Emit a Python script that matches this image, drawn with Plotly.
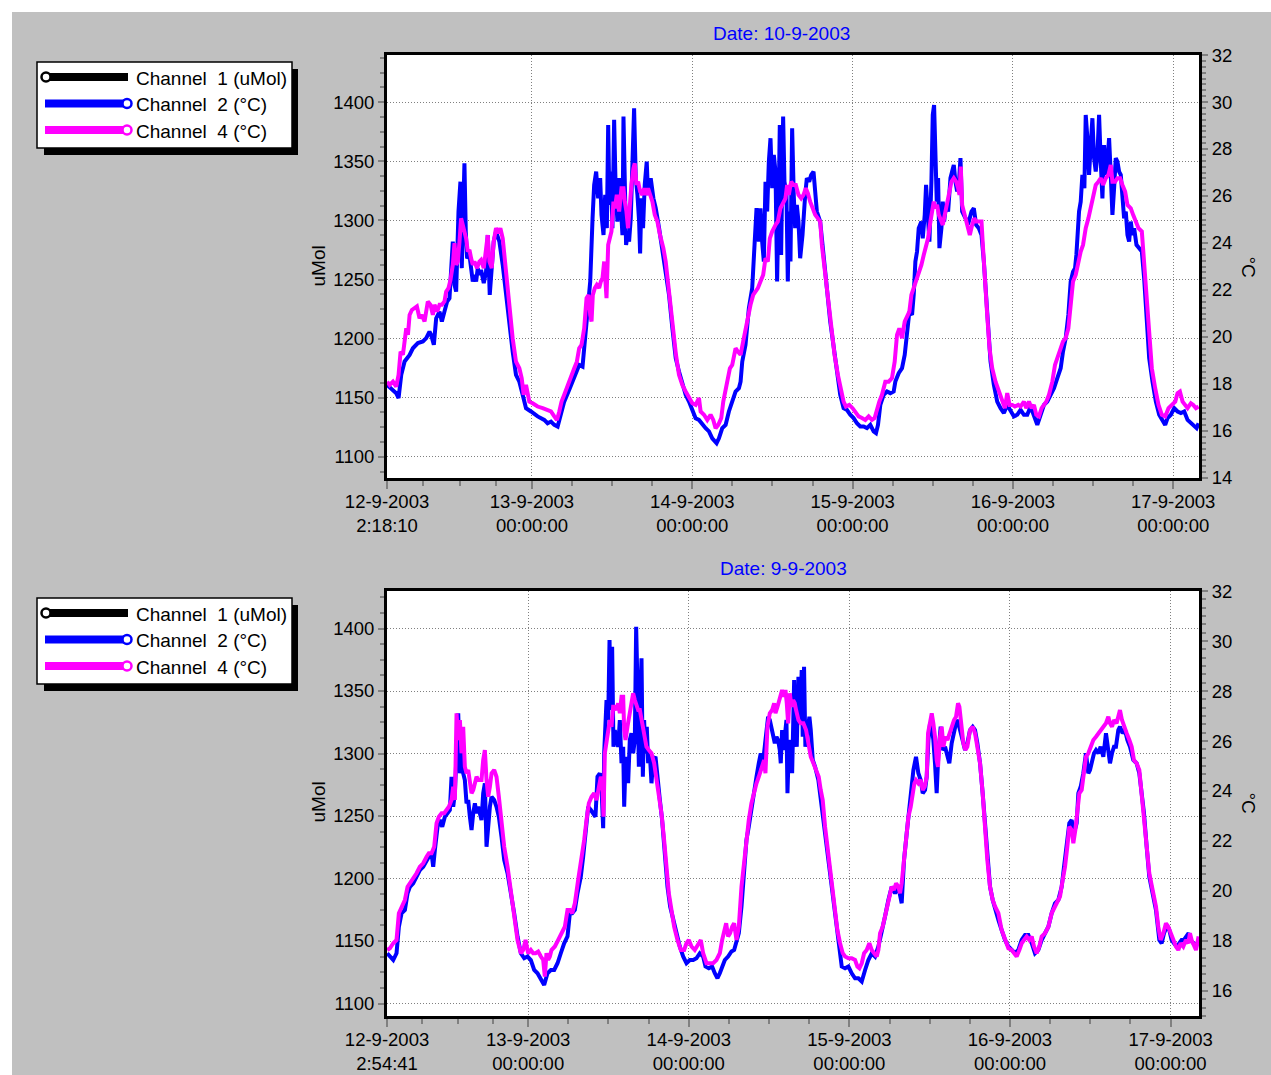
import pandas as pd
import plotly.graph_objects as go

# ---------------- data (hours after 12-9-2003 00:00, values in deg C) ----------------
DAY0 = pd.Timestamp("2003-09-12 00:00:00")
TOP_TITLE = "Date: 10-9-2003"
BOT_TITLE = "Date: 9-9-2003"
TOP_START = pd.Timestamp("2003-09-12 02:18:10")
BOT_START = pd.Timestamp("2003-09-12 02:54:41")
DAY_TICKS = ["2003-09-13", "2003-09-14", "2003-09-15", "2003-09-16", "2003-09-17"]
DAY_LABELS = ["13-9-2003<br>00:00:00", "14-9-2003<br>00:00:00", "15-9-2003<br>00:00:00",
              "16-9-2003<br>00:00:00", "17-9-2003<br>00:00:00"]
TOP_FIRST_LABEL = "12-9-2003<br>2:18:10"
BOT_FIRST_LABEL = "12-9-2003<br>2:54:41"
LEGEND_NAMES = ["Channel\u00a0\u00a01 (uMol)", "Channel\u00a0\u00a02 (°C)", "Channel\u00a0\u00a04 (°C)"]
UMOL_TICKS = [1100, 1150, 1200, 1250, 1300, 1350, 1400]
TOP_C_TICKS = [14, 16, 18, 20, 22, 24, 26, 28, 30, 32]
BOT_C_TICKS = [16, 18, 20, 22, 24, 26, 28, 30, 32]
CH1_H = []   # channel 1 (uMol) shows no visible samples in the picture
CH1 = []

TOP_CH2_H = [
    2.31, 2.94, 3.68, 4.03, 4.43, 4.93, 5.68, 6.17, 6.92, 7.67,
    8.17, 8.66, 8.91, 9.31, 9.66, 10.16, 10.51, 10.90, 11.30, 11.65,
    12.15, 12.40, 12.65, 13.00, 13.29, 13.49, 13.74, 13.89, 14.09, 14.29,
    14.64, 14.89, 15.14, 15.39, 15.64, 15.88, 16.13, 16.38, 16.78, 17.13,
    17.38, 17.68, 17.98, 18.27, 18.62, 19.12, 19.62, 20.12, 20.62, 21.11,
    21.61, 22.11, 22.61, 23.11, 23.85, 24.85, 25.84, 26.34, 26.84, 27.34,
    27.84, 28.33, 28.83, 29.58, 30.08, 30.58, 31.07, 31.57, 31.82, 32.32,
    32.72, 33.07, 33.31, 33.61, 33.91, 34.21, 34.41, 34.71, 34.96, 35.21,
    35.41, 35.60, 35.80, 36.05, 36.30, 36.55, 36.80, 37.05, 37.30, 37.55,
    37.70, 37.90, 38.09, 38.29, 38.54, 38.79, 39.04, 39.29, 39.54, 39.79,
    40.04, 40.19, 40.39, 40.63, 40.88, 41.18, 41.38, 41.78, 42.18, 42.53,
    43.03, 43.52, 44.02, 44.52, 45.02, 45.52, 46.01, 46.51, 47.01, 47.51,
    48.01, 48.50, 49.00, 49.50, 50.00, 50.50, 50.99, 51.64, 51.99, 52.49,
    52.99, 53.48, 53.98, 54.48, 54.98, 55.23, 55.48, 55.97, 56.47, 56.97,
    57.32, 57.62, 57.97, 58.21, 58.46, 58.71, 58.96, 59.21, 59.46, 59.71,
    59.96, 60.21, 60.46, 60.70, 60.95, 61.10, 61.30, 61.60, 61.80, 62.10,
    62.30, 62.50, 62.70, 62.95, 63.19, 63.40, 63.65, 63.90, 64.15, 64.50,
    64.90, 65.15, 65.50, 65.80, 66.15, 66.40, 66.65, 67.15, 67.65, 68.15,
    68.65, 69.15, 69.65, 70.15, 70.65, 71.15, 71.65, 72.15, 72.65, 73.15,
    73.65, 74.15, 74.65, 75.15, 75.50, 75.80, 76.15, 76.65, 77.15, 77.65,
    78.15, 78.40, 78.90, 79.40, 79.80, 80.15, 80.50, 80.90, 81.15, 81.40,
    81.65, 81.90, 82.30, 82.50, 82.80, 83.00, 83.30, 83.50, 83.80, 84.00,
    84.20, 84.40, 84.60, 84.80, 85.00, 85.30, 85.50, 85.70, 86.00, 86.30,
    86.65, 86.90, 87.15, 87.40, 87.65, 87.90, 88.15, 88.40, 88.65, 88.90,
    89.40, 89.80, 90.15, 90.50, 90.90, 91.30, 91.65, 92.00, 92.30, 92.65,
    93.15, 93.65, 94.15, 94.65, 95.15, 95.65, 96.15, 96.65, 97.15, 97.65,
    98.15, 98.65, 99.15, 99.65, 100.15, 100.65, 101.15, 101.65, 102.15, 102.65,
    103.15, 103.50, 103.90, 104.30, 104.65, 105.00, 105.30, 105.50, 105.70, 105.90,
    106.15, 106.40, 106.70, 106.90, 107.15, 107.40, 107.65, 107.90, 108.15, 108.40,
    108.65, 108.90, 109.15, 109.40, 109.65, 109.90, 110.15, 110.40, 110.65, 110.90,
    111.15, 111.40, 111.65, 111.90, 112.15, 112.40, 112.65, 112.90, 113.15, 113.40,
    113.65, 113.90, 114.15, 114.50, 114.90, 115.30, 115.65, 116.00, 116.40, 116.90,
    117.40, 117.90, 118.40, 118.80, 119.15, 119.65, 120.15, 120.65, 121.15, 121.65,
    122.15, 122.65, 123.15, 123.50, 123.80,
]
TOP_CH2 = [
    17.96, 17.82, 17.61, 17.40, 18.39, 18.96, 19.24, 19.52, 19.74, 19.81,
    19.95, 20.23, 20.09, 19.67, 20.80, 21.08, 20.66, 21.08, 21.51, 21.65,
    24.06, 22.22, 21.93, 25.34, 26.61, 22.93, 26.76, 27.39, 24.49, 23.35,
    23.49, 22.78, 22.36, 22.64, 22.36, 22.93, 22.64, 22.86, 22.29, 22.78,
    24.34, 21.79, 22.93, 24.06, 24.49, 24.06, 23.07, 21.79, 20.66, 19.38,
    18.39, 18.10, 17.54, 16.97, 16.83, 16.62, 16.47, 16.33, 16.40, 16.26,
    16.19, 16.69, 17.25, 17.75, 18.10, 18.39, 18.81, 18.74, 19.52, 21.22,
    22.36, 25.05, 26.47, 27.04, 25.90, 26.76, 25.20, 24.34, 26.05, 24.63,
    29.02, 25.62, 27.04, 24.63, 29.24, 26.05, 24.91, 26.76, 25.48, 24.34,
    29.38, 26.05, 23.92, 24.34, 24.06, 25.05, 28.17, 29.73, 26.76, 26.05,
    24.91, 23.56, 25.90, 24.63, 26.47, 27.46, 26.05, 26.76, 25.90, 25.48,
    24.63, 23.64, 22.93, 21.79, 20.37, 19.10, 18.53, 17.96, 17.54, 17.25,
    16.83, 16.54, 16.47, 16.26, 16.12, 15.98, 15.69, 15.48, 15.69, 16.12,
    16.26, 16.83, 17.25, 17.68, 17.82, 18.10, 18.95, 19.67, 21.22, 22.08,
    23.92, 25.48, 24.06, 25.48, 24.06, 23.21, 26.61, 25.34, 27.46, 28.46,
    26.33, 27.75, 27.04, 22.36, 26.05, 29.02, 23.49, 29.38, 26.61, 26.05,
    22.36, 25.34, 23.21, 28.88, 26.05, 24.63, 25.62, 24.91, 23.35, 24.34,
    26.05, 26.76, 26.61, 26.90, 27.04, 25.90, 25.34, 24.91, 23.64, 22.08,
    20.66, 19.52, 18.53, 17.54, 16.97, 16.90, 16.69, 16.55, 16.33, 16.19,
    16.19, 16.12, 16.26, 15.98, 15.91, 16.26, 17.11, 17.54, 17.68, 17.61,
    17.68, 18.10, 18.46, 18.67, 19.24, 20.37, 21.08, 20.94, 21.79, 23.21,
    23.64, 24.63, 24.91, 24.20, 25.20, 26.47, 25.34, 24.06, 26.61, 29.45,
    29.87, 27.46, 25.76, 26.76, 23.78, 24.63, 25.76, 24.91, 25.62, 25.34,
    26.76, 27.04, 27.32, 26.61, 26.19, 26.47, 27.61, 25.34, 25.20, 25.05,
    24.91, 25.34, 25.48, 24.77, 24.63, 24.34, 23.21, 21.79, 20.37, 18.95,
    17.96, 17.25, 16.97, 16.76, 17.11, 16.90, 16.62, 16.69, 16.90, 16.69,
    16.69, 17.04, 16.69, 16.26, 16.69, 17.11, 17.25, 17.54, 17.82, 18.25,
    18.67, 19.38, 19.95, 20.94, 22.36, 22.78, 22.93, 23.49, 24.34, 25.34,
    25.76, 26.90, 26.33, 29.45, 28.46, 26.90, 28.17, 29.31, 27.61, 27.04,
    27.75, 29.45, 27.46, 25.90, 28.17, 26.90, 27.46, 28.46, 26.90, 25.20,
    26.33, 27.61, 27.46, 27.04, 26.90, 25.76, 25.05, 25.34, 24.34, 24.06,
    24.91, 24.34, 24.63, 23.92, 23.78, 23.64, 22.50, 20.66, 19.10, 18.10,
    17.25, 16.69, 16.40, 16.26, 16.55, 16.69, 16.97, 16.83, 16.76, 16.83,
    16.47, 16.33, 16.19, 16.12, 16.33,
]

TOP_CH4_H = [
    2.31, 2.69, 3.19, 3.68, 4.03, 4.33, 4.68, 4.93, 5.18, 5.43,
    5.68, 6.02, 6.42, 6.77, 7.17, 7.52, 7.92, 8.17, 8.41, 8.81,
    9.16, 9.41, 9.81, 10.16, 10.51, 10.90, 11.15, 11.50, 11.80, 12.15,
    12.40, 12.65, 12.90, 13.15, 13.39, 13.64, 13.89, 14.14, 14.39, 14.64,
    14.89, 15.14, 15.39, 15.78, 16.13, 16.38, 16.78, 17.13, 17.38, 17.63,
    17.98, 18.27, 18.62, 18.97, 19.27, 19.62, 19.87, 20.27, 20.62, 21.11,
    21.61, 22.11, 22.46, 22.76, 23.11, 23.35, 23.60, 24.10, 24.85, 25.60,
    26.34, 26.84, 27.34, 27.74, 28.09, 28.43, 28.83, 29.33, 29.83, 30.33,
    30.72, 31.07, 31.42, 31.82, 32.17, 32.47, 32.72, 32.92, 33.11, 33.41,
    33.71, 34.06, 34.31, 34.56, 34.81, 34.96, 35.16, 35.41, 35.70, 35.90,
    36.20, 36.40, 36.70, 37.05, 37.40, 37.70, 37.90, 38.14, 38.39, 38.69,
    38.89, 39.19, 39.39, 39.64, 39.89, 40.19, 40.53, 40.78, 41.08, 41.38,
    41.68, 42.03, 42.38, 42.78, 43.17, 43.67, 44.02, 44.37, 44.77, 45.17,
    45.56, 46.01, 46.51, 47.01, 47.51, 48.01, 48.50, 49.00, 49.25, 49.75,
    50.25, 50.74, 51.14, 51.49, 51.89, 52.34, 52.64, 52.99, 53.33, 53.63,
    53.98, 54.48, 54.83, 55.23, 55.62, 55.97, 56.32, 56.72, 57.12, 57.47,
    57.82, 58.21, 58.61, 58.96, 59.31, 59.61, 59.96, 60.46, 60.80, 61.20,
    61.60, 61.95, 62.20, 62.45, 62.80, 63.19, 63.50, 63.90, 64.30, 64.65,
    65.00, 65.30, 65.65, 66.00, 66.40, 66.80, 67.15, 67.40, 67.80, 68.30,
    68.80, 69.30, 69.80, 70.30, 70.65, 71.00, 71.50, 72.00, 72.40, 72.90,
    73.40, 73.90, 74.40, 74.90, 75.30, 75.65, 76.00, 76.40, 76.90, 77.40,
    77.90, 78.30, 78.65, 79.00, 79.40, 79.80, 80.15, 80.50, 80.80, 81.15,
    81.50, 81.90, 82.30, 82.65, 82.90, 83.30, 83.65, 83.90, 84.15, 84.40,
    84.65, 84.90, 85.20, 85.50, 85.80, 86.15, 86.50, 86.80, 87.15, 87.50,
    87.80, 88.00, 88.20, 88.40, 88.65, 88.90, 89.25, 89.55, 89.90, 90.20,
    90.50, 90.90, 91.30, 91.50, 91.80, 92.15, 92.50, 92.90, 93.40, 93.90,
    94.40, 94.80, 95.15, 95.50, 95.90, 96.30, 96.80, 97.15, 97.65, 98.00,
    98.40, 98.80, 99.15, 99.50, 99.90, 100.30, 100.65, 101.00, 101.40, 101.90,
    102.30, 102.70, 103.15, 103.50, 103.90, 104.30, 104.65, 105.00, 105.40, 105.80,
    106.15, 106.50, 106.90, 107.30, 107.65, 108.00, 108.40, 108.80, 109.15, 109.50,
    109.90, 110.30, 110.65, 110.90, 111.30, 111.65, 112.05, 112.40, 112.80, 113.15,
    113.65, 114.00, 114.40, 114.80, 115.30, 115.65, 116.00, 116.40, 116.80, 117.30,
    117.80, 118.30, 118.80, 119.30, 119.80, 120.30, 120.65, 121.00, 121.40, 121.80,
    122.15, 122.65, 123.00, 123.40, 123.80,
]
TOP_CH4 = [
    18.10, 17.96, 18.10, 17.89, 18.39, 19.38, 19.24, 19.95, 20.37, 20.09,
    20.94, 21.15, 21.22, 21.30, 20.80, 20.94, 20.66, 21.22, 21.51, 21.37,
    20.94, 21.37, 21.08, 21.37, 21.37, 21.51, 21.93, 22.08, 22.43, 23.07,
    23.99, 23.07, 23.21, 24.06, 25.05, 24.77, 24.49, 24.20, 23.64, 23.71,
    23.35, 23.07, 23.21, 22.93, 23.21, 23.28, 22.93, 23.64, 24.34, 23.21,
    22.93, 24.06, 24.63, 24.42, 24.63, 24.20, 23.49, 22.36, 21.22, 19.95,
    18.95, 18.67, 18.25, 17.54, 17.96, 17.54, 17.25, 17.18, 17.04, 16.97,
    16.90, 16.83, 16.62, 16.47, 16.83, 17.25, 17.54, 17.96, 18.25, 18.67,
    18.95, 19.52, 19.67, 20.37, 21.65, 21.79, 20.94, 20.66, 21.79, 22.08,
    22.22, 22.08, 22.36, 22.50, 23.21, 22.36, 21.65, 23.92, 24.34, 24.49,
    25.76, 25.48, 26.05, 25.34, 26.33, 26.33, 25.76, 25.34, 24.63, 26.05,
    26.47, 27.18, 27.39, 26.47, 26.61, 26.19, 26.05, 26.33, 26.05, 26.33,
    26.05, 25.76, 25.20, 24.91, 24.34, 23.78, 23.21, 22.22, 21.08, 20.09,
    19.24, 18.39, 17.96, 17.68, 17.40, 17.18, 17.11, 17.40, 16.83, 16.69,
    16.47, 16.69, 16.47, 16.12, 16.26, 16.55, 17.25, 17.82, 18.39, 18.67,
    18.81, 19.52, 19.38, 19.24, 19.81, 20.37, 20.80, 21.37, 21.79, 21.93,
    22.08, 22.36, 22.64, 23.35, 23.21, 24.20, 24.49, 24.77, 24.91, 25.48,
    25.76, 25.90, 26.47, 26.05, 26.61, 26.47, 26.47, 26.05, 25.90, 26.05,
    26.33, 26.12, 25.76, 25.48, 25.20, 25.05, 24.91, 23.92, 22.93, 21.79,
    20.37, 19.24, 18.39, 17.82, 17.25, 17.04, 17.11, 16.97, 16.83, 16.62,
    16.55, 16.47, 16.62, 16.47, 16.55, 16.97, 17.25, 17.54, 18.10, 18.10,
    18.25, 18.95, 20.09, 20.37, 19.95, 20.66, 20.87, 21.08, 21.79, 22.08,
    22.36, 22.64, 23.07, 23.49, 23.78, 24.20, 24.91, 25.48, 25.76, 25.48,
    25.62, 25.20, 24.91, 24.77, 25.20, 25.76, 26.19, 26.61, 26.76, 26.61,
    26.33, 26.05, 27.25, 25.62, 25.34, 25.05, 24.63, 24.34, 24.77, 25.05,
    24.91, 24.91, 24.91, 23.92, 22.36, 20.94, 19.52, 18.67, 18.10, 17.68,
    17.25, 16.97, 17.61, 17.11, 17.11, 17.04, 17.11, 17.04, 17.25, 16.97,
    17.25, 16.97, 17.11, 16.69, 16.62, 16.97, 17.11, 17.25, 17.54, 18.10,
    18.81, 19.10, 19.52, 19.81, 19.95, 20.37, 21.51, 22.36, 22.64, 23.21,
    23.64, 23.92, 24.63, 25.05, 25.48, 25.90, 26.47, 26.61, 26.76, 26.47,
    26.76, 26.90, 27.32, 26.61, 26.61, 26.76, 26.76, 26.47, 26.19, 25.62,
    25.48, 25.20, 24.91, 24.63, 24.49, 23.21, 21.79, 20.09, 18.67, 17.82,
    17.11, 16.69, 16.62, 16.97, 17.11, 17.25, 17.61, 17.68, 17.25, 17.11,
    16.97, 17.18, 17.11, 16.97, 17.04,
]

BOT_CH2_H = [
    2.94, 3.34, 3.84, 4.33, 4.68, 5.08, 5.58, 5.98, 6.33, 6.82,
    7.32, 7.82, 8.32, 8.82, 9.16, 9.56, 9.81, 10.06, 10.46, 10.81,
    11.16, 11.55, 11.95, 12.30, 12.55, 12.80, 13.05, 13.30, 13.55, 13.80,
    14.04, 14.29, 14.54, 14.79, 15.04, 15.29, 15.54, 15.79, 16.04, 16.29,
    16.53, 16.78, 17.03, 17.28, 17.53, 17.78, 18.03, 18.28, 18.53, 18.92,
    19.27, 19.62, 20.02, 20.42, 20.92, 21.41, 21.91, 22.41, 22.91, 23.41,
    23.90, 24.40, 24.90, 25.40, 25.90, 26.39, 26.89, 27.39, 27.89, 28.39,
    28.88, 29.38, 29.88, 30.23, 30.58, 30.98, 31.37, 31.87, 32.22, 32.57,
    32.97, 33.37, 33.72, 34.06, 34.36, 34.71, 34.96, 35.21, 35.36, 35.56,
    35.71, 35.96, 36.16, 36.35, 36.55, 36.75, 36.95, 37.20, 37.45, 37.70,
    37.95, 38.20, 38.35, 38.55, 38.74, 38.94, 39.19, 39.44, 39.69, 39.94,
    40.14, 40.34, 40.54, 40.74, 40.94, 41.14, 41.33, 41.53, 41.73, 41.93,
    42.18, 42.43, 42.68, 43.03, 43.33, 43.68, 44.02, 44.42, 44.82, 45.22,
    45.67, 46.17, 46.66, 47.16, 47.66, 48.16, 48.66, 49.15, 49.65, 50.15,
    50.50, 51.00, 51.49, 51.89, 52.29, 52.64, 52.99, 53.39, 53.88, 54.38,
    54.78, 55.13, 55.48, 55.88, 56.27, 56.62, 56.97, 57.37, 57.77, 58.12,
    58.46, 58.76, 58.96, 59.26, 59.61, 59.86, 60.11, 60.36, 60.61, 60.86,
    61.11, 61.35, 61.60, 61.75, 61.95, 62.15, 62.35, 62.60, 62.75, 62.95,
    63.25, 63.45, 63.75, 63.84, 64.14, 64.39, 64.63, 64.88, 65.03, 65.23,
    65.43, 65.73, 66.03, 66.23, 66.53, 66.88, 67.37, 67.87, 68.37, 68.87,
    69.37, 69.86, 70.36, 70.86, 71.36, 71.86, 72.35, 72.85, 73.35, 73.85,
    74.35, 74.84, 75.34, 75.84, 76.34, 76.83, 77.33, 77.83, 78.33, 78.83,
    79.33, 79.82, 80.17, 80.57, 80.97, 81.32, 81.57, 81.96, 82.31, 82.66,
    82.96, 83.31, 83.56, 83.81, 84.06, 84.31, 84.55, 84.80, 85.05, 85.30,
    85.65, 85.95, 86.30, 86.55, 86.94, 87.29, 87.64, 88.04, 88.29, 88.54,
    88.79, 89.04, 89.29, 89.63, 90.03, 90.43, 90.78, 91.13, 91.53, 91.92,
    92.27, 92.62, 93.02, 93.42, 93.77, 94.27, 94.76, 95.26, 95.76, 96.26,
    96.76, 97.25, 97.75, 98.25, 98.75, 99.25, 99.74, 100.24, 100.74, 101.24,
    101.74, 102.23, 102.73, 103.23, 103.73, 104.08, 104.47, 104.87, 105.22, 105.57,
    105.97, 106.22, 106.57, 106.96, 107.36, 107.71, 107.96, 108.26, 108.56, 108.86,
    109.21, 109.55, 109.95, 110.35, 110.70, 110.95, 111.25, 111.55, 111.84, 112.19,
    112.44, 112.84, 113.19, 113.54, 113.94, 114.43, 114.93, 115.33, 115.68, 116.03,
    116.43, 116.82, 117.32, 117.82, 118.32, 118.67, 119.02, 119.42, 119.81, 120.16,
    120.51, 120.91, 121.31, 121.65, 122.00, 122.40, 122.70, 123.00, 123.40, 123.80,
    124.19,
]
BOT_CH2 = [
    17.51, 17.38, 17.24, 17.51, 18.57, 19.11, 19.24, 19.91, 20.17, 20.31,
    20.57, 20.84, 20.97, 21.24, 21.37, 21.51, 20.97, 21.64, 22.57, 22.84,
    22.57, 22.97, 23.11, 23.24, 24.57, 23.37, 23.91, 25.24, 27.11, 24.71,
    25.64, 24.71, 24.44, 23.51, 23.64, 22.97, 22.44, 23.11, 23.51, 23.11,
    23.37, 23.11, 22.84, 23.91, 24.31, 21.77, 22.84, 23.37, 23.77, 23.64,
    23.37, 22.97, 22.17, 21.24, 20.71, 19.78, 19.11, 18.18, 17.51, 17.31,
    17.38, 17.24, 16.84, 16.71, 16.44, 16.24, 16.71, 16.84, 16.84, 17.11,
    17.51, 17.91, 18.18, 19.11, 19.11, 19.24, 19.91, 20.57, 21.37, 22.31,
    23.37, 23.24, 23.11, 22.97, 24.57, 24.71, 24.17, 22.51, 25.51, 26.44,
    27.64, 26.84, 30.04, 27.24, 29.77, 25.77, 26.44, 26.04, 25.77, 26.84,
    25.11, 25.77, 23.37, 25.11, 25.37, 24.31, 26.04, 26.31, 25.51, 26.04,
    30.57, 28.17, 24.97, 27.51, 29.31, 24.57, 26.84, 25.51, 26.57, 25.11,
    25.51, 24.31, 25.24, 25.37, 24.44, 23.64, 22.84, 21.24, 20.17, 19.38,
    18.84, 18.31, 17.78, 17.38, 17.11, 17.24, 17.24, 17.31, 17.51, 17.38,
    16.98, 16.91, 16.98, 16.71, 16.51, 16.71, 16.98, 17.24, 17.38, 17.58,
    17.64, 18.04, 18.31, 19.38, 20.71, 22.04, 22.57, 23.37, 23.91, 24.57,
    25.11, 25.51, 24.84, 25.64, 26.31, 26.97, 26.84, 26.57, 26.31, 25.91,
    26.17, 26.04, 25.64, 25.11, 26.44, 25.64, 26.17, 26.84, 23.91, 25.64,
    26.04, 24.71, 28.44, 26.84, 25.77, 28.57, 26.84, 28.84, 26.17, 28.97,
    25.77, 26.44, 26.97, 26.44, 25.24, 24.97, 24.44, 23.37, 22.31, 20.97,
    19.91, 18.84, 17.78, 16.98, 16.91, 16.98, 16.71, 16.51, 16.51, 16.38,
    16.84, 17.24, 17.51, 17.38, 17.78, 18.31, 18.98, 19.64, 20.17, 19.91,
    20.17, 19.51, 21.24, 22.31, 23.37, 24.57, 24.84, 25.37, 24.71, 24.44,
    23.91, 24.04, 24.57, 26.04, 26.71, 26.57, 26.04, 25.11, 23.91, 25.51,
    26.57, 25.64, 25.77, 25.51, 25.11, 25.91, 26.44, 26.84, 26.71, 26.44,
    26.04, 25.77, 25.64, 25.91, 26.44, 26.57, 26.44, 25.91, 25.11, 23.91,
    22.57, 21.24, 20.17, 19.64, 19.24, 18.84, 18.44, 18.04, 17.78, 17.64,
    17.51, 17.64, 18.04, 18.24, 18.24, 17.91, 17.51, 17.64, 18.04, 18.31,
    18.57, 19.11, 19.51, 19.64, 20.17, 20.97, 21.77, 22.71, 22.84, 22.31,
    22.71, 23.91, 24.17, 24.71, 25.51, 24.71, 24.84, 25.24, 25.51, 25.64,
    25.51, 25.77, 25.37, 26.31, 25.51, 25.11, 25.51, 25.77, 25.77, 26.44,
    26.57, 26.31, 26.44, 26.04, 25.77, 25.24, 25.11, 24.71, 23.91, 23.11,
    21.77, 20.57, 19.91, 19.24, 18.04, 17.91, 18.31, 18.57, 18.44, 18.04,
    17.91, 17.78, 17.91, 18.04, 18.04, 18.17, 18.31, 18.04, 17.91, 17.78,
    18.04,
]

BOT_CH4_H = [
    2.94, 3.34, 3.84, 4.33, 4.68, 5.08, 5.58, 5.98, 6.33, 6.82,
    7.32, 7.82, 8.32, 8.82, 9.16, 9.56, 9.96, 10.31, 10.66, 11.06,
    11.45, 11.80, 12.15, 12.55, 12.80, 13.05, 13.30, 13.55, 13.80, 14.04,
    14.29, 14.54, 14.79, 15.04, 15.29, 15.54, 15.79, 16.04, 16.29, 16.53,
    16.78, 17.03, 17.28, 17.53, 17.78, 18.03, 18.28, 18.53, 18.92, 19.27,
    19.62, 20.02, 20.42, 20.92, 21.41, 21.91, 22.41, 22.91, 23.26, 23.61,
    24.00, 24.40, 24.75, 25.10, 25.50, 25.90, 26.25, 26.49, 26.74, 26.99,
    27.24, 27.49, 27.99, 28.49, 28.98, 29.48, 29.88, 30.23, 30.58, 30.98,
    31.47, 31.97, 32.37, 32.72, 33.07, 33.47, 33.86, 34.21, 34.56, 34.86,
    35.06, 35.26, 35.46, 35.71, 35.96, 36.21, 36.45, 36.70, 36.95, 37.20,
    37.45, 37.70, 37.95, 38.20, 38.35, 38.55, 38.84, 39.19, 39.44, 39.69,
    39.94, 40.19, 40.44, 40.69, 40.94, 41.33, 41.68, 42.03, 42.43, 42.83,
    43.18, 43.53, 43.92, 44.32, 44.67, 45.02, 45.42, 45.82, 46.31, 46.81,
    47.31, 47.66, 48.01, 48.41, 48.90, 49.40, 49.80, 50.15, 50.65, 51.15,
    51.64, 52.14, 52.64, 52.99, 53.29, 53.59, 53.88, 54.18, 54.48, 54.78,
    55.13, 55.48, 55.88, 56.27, 56.62, 56.97, 57.37, 57.77, 58.12, 58.46,
    58.86, 59.26, 59.46, 59.76, 60.11, 60.46, 60.76, 60.96, 61.26, 61.60,
    61.95, 62.25, 62.45, 62.65, 62.85, 63.10, 63.35, 63.60, 63.84, 64.04,
    64.39, 64.73, 65.13, 65.53, 65.88, 66.23, 66.63, 67.02, 67.42, 67.72,
    68.02, 68.37, 68.72, 69.12, 69.51, 69.86, 70.21, 70.61, 71.01, 71.36,
    71.86, 72.35, 72.85, 73.20, 73.50, 73.85, 74.20, 74.59, 74.99, 75.34,
    75.69, 76.09, 76.34, 76.59, 76.98, 77.33, 77.68, 77.98, 78.33, 78.68,
    78.98, 79.33, 79.57, 79.82, 80.07, 80.32, 80.57, 80.82, 81.17, 81.47,
    81.72, 81.96, 82.31, 82.66, 82.96, 83.26, 83.56, 83.76, 84.06, 84.31,
    84.55, 84.80, 85.05, 85.25, 85.55, 85.80, 86.05, 86.35, 86.65, 86.94,
    87.29, 87.64, 87.94, 88.24, 88.44, 88.64, 88.84, 89.04, 89.33, 89.63,
    90.03, 90.43, 90.78, 91.13, 91.53, 91.92, 92.27, 92.62, 93.02, 93.42,
    93.77, 94.27, 94.76, 95.26, 95.76, 96.26, 96.61, 97.00, 97.40, 97.75,
    98.10, 98.50, 98.90, 99.25, 99.59, 99.99, 100.39, 100.74, 101.24, 101.74,
    102.23, 102.73, 103.08, 103.48, 103.88, 104.23, 104.57, 104.87, 105.22, 105.47,
    105.77, 106.07, 106.37, 106.72, 107.06, 107.36, 107.71, 108.06, 108.46, 108.86,
    109.21, 109.55, 109.95, 110.35, 110.70, 110.95, 111.25, 111.55, 111.94, 112.24,
    112.44, 112.74, 113.04, 113.44, 113.84, 114.19, 114.53, 114.93, 115.33, 115.68,
    116.03, 116.43, 116.82, 117.32, 117.82, 118.17, 118.52, 118.92, 119.31, 119.66,
    120.01, 120.41, 120.81, 121.16, 121.51, 121.90, 122.30, 122.65, 122.90, 123.15,
    123.50, 123.80, 124.19,
]
BOT_CH4 = [
    17.64, 17.71, 17.91, 18.04, 19.11, 19.38, 19.64, 20.17, 20.31, 20.44,
    20.71, 20.97, 21.11, 21.37, 21.51, 21.51, 21.77, 22.71, 22.97, 23.11,
    23.11, 23.24, 23.37, 23.64, 24.17, 23.64, 27.11, 26.04, 26.84, 25.51,
    26.57, 24.97, 24.71, 24.84, 24.44, 23.91, 24.04, 24.31, 24.57, 24.44,
    24.44, 24.44, 25.24, 25.64, 24.44, 23.77, 24.17, 24.71, 24.84, 24.57,
    23.77, 22.84, 21.77, 20.97, 19.91, 18.84, 18.04, 17.51, 17.64, 18.04,
    17.51, 17.64, 17.51, 17.51, 17.58, 17.38, 17.24, 16.58, 17.51, 17.24,
    17.38, 17.64, 17.78, 18.04, 18.31, 18.57, 19.24, 19.24, 19.11, 19.51,
    20.44, 21.24, 22.04, 22.84, 23.51, 23.77, 23.91, 23.64, 24.17, 24.57,
    24.44, 22.97, 25.51, 26.04, 26.57, 26.84, 26.57, 27.37, 27.37, 27.24,
    27.51, 27.11, 27.77, 27.77, 26.44, 26.04, 26.57, 27.11, 27.64, 27.91,
    27.64, 27.37, 27.24, 27.24, 26.84, 26.17, 25.77, 25.64, 25.51, 25.11,
    24.44, 23.91, 23.11, 22.04, 20.71, 19.91, 19.24, 18.57, 18.04, 17.64,
    17.64, 17.91, 18.04, 17.78, 17.64, 17.91, 18.04, 17.51, 17.11, 17.11,
    17.11, 17.24, 17.51, 18.04, 18.31, 18.71, 18.18, 18.31, 18.57, 18.71,
    18.04, 18.57, 20.17, 21.24, 22.17, 22.84, 23.51, 24.04, 24.31, 24.57,
    24.97, 25.24, 24.71, 26.57, 27.11, 27.24, 27.51, 27.11, 27.37, 27.77,
    28.04, 27.77, 28.04, 27.51, 26.71, 27.91, 27.37, 27.64, 27.51, 27.24,
    26.84, 26.71, 26.71, 26.44, 25.91, 25.37, 25.11, 24.84, 24.57, 24.04,
    23.64, 22.57, 21.77, 20.71, 19.91, 19.11, 18.44, 17.91, 17.51, 17.38,
    17.31, 17.31, 17.24, 16.98, 16.91, 17.11, 17.51, 17.64, 17.91, 17.64,
    17.51, 17.38, 17.64, 18.31, 18.57, 18.98, 19.38, 19.91, 20.17, 20.04,
    20.31, 20.17, 19.91, 20.31, 20.97, 21.51, 22.31, 22.97, 23.37, 23.91,
    24.31, 24.44, 24.31, 24.44, 24.04, 24.17, 24.57, 26.31, 26.84, 27.11,
    26.71, 26.17, 25.24, 24.97, 26.17, 26.57, 25.77, 26.17, 26.04, 26.31,
    26.57, 26.84, 26.97, 27.51, 27.37, 26.84, 26.44, 25.91, 25.64, 25.77,
    26.44, 26.57, 26.31, 25.77, 25.11, 23.91, 22.44, 21.24, 20.17, 19.64,
    19.38, 19.11, 18.44, 18.04, 17.71, 17.64, 17.51, 17.38, 17.64, 17.91,
    18.04, 18.18, 18.04, 18.18, 17.78, 17.51, 17.78, 18.18, 18.31, 18.57,
    19.11, 19.38, 19.64, 19.78, 20.44, 20.97, 21.77, 22.57, 22.44, 21.91,
    22.44, 23.11, 23.91, 24.04, 24.71, 25.37, 25.51, 25.77, 26.04, 26.17,
    26.31, 26.44, 26.57, 26.71, 26.97, 26.71, 26.57, 26.84, 26.71, 26.97,
    27.24, 26.84, 26.57, 26.31, 26.04, 25.77, 25.24, 25.11, 24.84, 23.91,
    23.11, 21.77, 20.71, 20.04, 19.38, 18.57, 18.04, 18.31, 18.71, 18.57,
    18.31, 18.04, 17.78, 17.64, 17.91, 17.78, 18.04, 17.91, 18.31, 18.04,
    17.78, 17.64, 18.18,
]

for hs, vs in [(TOP_CH2_H, TOP_CH2), (TOP_CH4_H, TOP_CH4), (BOT_CH2_H, BOT_CH2), (BOT_CH4_H, BOT_CH4)]:
    assert len(hs) == len(vs), (len(hs), len(vs))


def to_dt(hours):
    return [DAY0 + pd.Timedelta(hours=h) for h in hours]


# ---------------- layout geometry (page pixels) ----------------
W, H = 1271, 1075
PL, PR = 387, 1199
TOP_T, TOP_B = 55, 478
BOT_T, BOT_B = 591, 1016
PW = PR - PL
PH = BOT_B - TOP_T


def fx(px):
    return (px - PL) / PW


def fy(py):
    return (BOT_B - py) / PH


BLUE = "#0000FF"
MAGENTA = "#FF00FF"
GREY = "#C0C0C0"
TICKGREY = "#808080"
GRIDDASH = "1px,2px"
LW = 4
FONT = "Liberation Sans, Arial, sans-serif"
TICKFONT = dict(family=FONT, size=18.5, color="black")

fig = go.Figure()
# channel 1 (uMol, left axes) - no visible samples
fig.add_trace(go.Scatter(x=to_dt(CH1_H), y=CH1, mode="lines", xaxis="x", yaxis="y",
                         line=dict(color="black", width=LW), name=LEGEND_NAMES[0], showlegend=False))
fig.add_trace(go.Scatter(x=to_dt(CH1_H), y=CH1, mode="lines", xaxis="x2", yaxis="y3",
                         line=dict(color="black", width=LW), name=LEGEND_NAMES[0], showlegend=False))
fig.add_trace(go.Scatter(x=to_dt(TOP_CH2_H), y=TOP_CH2, mode="lines", xaxis="x", yaxis="y2",
                         line=dict(color=BLUE, width=LW), name=LEGEND_NAMES[1], showlegend=False))
fig.add_trace(go.Scatter(x=to_dt(TOP_CH4_H), y=TOP_CH4, mode="lines", xaxis="x", yaxis="y2",
                         line=dict(color=MAGENTA, width=LW), name=LEGEND_NAMES[2], showlegend=False))
fig.add_trace(go.Scatter(x=to_dt(BOT_CH2_H), y=BOT_CH2, mode="lines", xaxis="x2", yaxis="y4",
                         line=dict(color=BLUE, width=LW), name=LEGEND_NAMES[1], showlegend=False))
fig.add_trace(go.Scatter(x=to_dt(BOT_CH4_H), y=BOT_CH4, mode="lines", xaxis="x2", yaxis="y4",
                         line=dict(color=MAGENTA, width=LW), name=LEGEND_NAMES[2], showlegend=False))


def minor_x(start):
    first_day = pd.Timestamp("2003-09-13")
    step = (first_day - start) / 4
    vals = [start + step * k for k in (1, 2, 3)]
    t = first_day
    end = pd.Timestamp("2003-09-17 06:00")
    while t <= end:
        for k in (1, 2, 3):
            vals.append(t + pd.Timedelta(hours=6 * k))
        t += pd.Timedelta(days=1)
    return [v.strftime("%Y-%m-%d %H:%M:%S") for v in vals]


def xaxis_cfg(start, first_label, px_per_hour, anchor):
    end = start + pd.Timedelta(hours=PW / px_per_hour)
    return dict(
        type="date", domain=[0, 1], anchor=anchor, automargin=False,
        range=[(start - pd.Timedelta(seconds=20)).strftime("%Y-%m-%d %H:%M:%S"),
               end.strftime("%Y-%m-%d %H:%M:%S")],
        tickmode="array",
        tickvals=[start.strftime("%Y-%m-%d %H:%M:%S")] + DAY_TICKS,
        ticktext=[first_label] + DAY_LABELS,
        ticks="outside", ticklen=8, tickwidth=1.5, tickcolor=TICKGREY,
        ticklabelstandoff=-3,
        tickfont=TICKFONT,
        showgrid=True, gridcolor=TICKGREY, griddash=GRIDDASH, gridwidth=1,
        showline=True, linecolor="black", linewidth=3, mirror=True,
        zeroline=False,
        minor=dict(ticks="outside", ticklen=5, tickwidth=1.5, tickcolor=TICKGREY,
                   tickmode="array", tickvals=minor_x(start), showgrid=False),
    )


def left_cfg(rng, domain, anchor):
    return dict(
        domain=domain, anchor=anchor, range=rng, automargin=False,
        tickmode="array", tickvals=UMOL_TICKS, ticktext=[str(v) for v in UMOL_TICKS],
        ticks="outside", ticklen=6, tickwidth=1.5, tickcolor=TICKGREY,
        tickfont=TICKFONT,
        showgrid=True, gridcolor=TICKGREY, griddash=GRIDDASH, gridwidth=1,
        showline=True, linecolor="black", linewidth=3, zeroline=False,
        minor=dict(ticks="outside", ticklen=4, tickwidth=1.5, tickcolor=TICKGREY,
                   tickmode="linear", tick0=1100, dtick=12.5, showgrid=False),
    )


def right_cfg(rng, ticks, overlay, anchor, mdt, domain):
    return dict(
        overlaying=overlay, side="right", anchor=anchor, range=rng, domain=domain,
        automargin=False,
        tickmode="array", tickvals=ticks, ticktext=[str(v) for v in ticks],
        ticks="outside", ticklen=6, tickwidth=1.5, tickcolor=TICKGREY,
        tickfont=TICKFONT,
        showgrid=False, showline=True, linecolor="black", linewidth=3, zeroline=False,
        minor=dict(ticks="outside", ticklen=4, tickwidth=1.5, tickcolor=TICKGREY,
                   tickmode="linear", tick0=rng[0], dtick=mdt, showgrid=False),
    )


top_dom = [fy(TOP_B), 1.0]
bot_dom = [0.0, fy(BOT_T)]

fig.update_layout(
    width=W, height=H, autosize=False,
    margin=dict(l=PL, r=W - PR, t=TOP_T, b=H - BOT_B, pad=0, autoexpand=False),
    paper_bgcolor=GREY, plot_bgcolor="white",
    showlegend=False,
    xaxis=xaxis_cfg(TOP_START, TOP_FIRST_LABEL, 6.68, "y"),
    yaxis=left_cfg([1082, 1440], top_dom, "x"),
    yaxis2=right_cfg([13.999, 32.001], TOP_C_TICKS, "y", "x", 0.25, top_dom),
    xaxis2=xaxis_cfg(BOT_START, BOT_FIRST_LABEL, 6.692, "y3"),
    yaxis3=left_cfg([1090, 1430], bot_dom, "x2"),
    yaxis4=right_cfg([15.0, 32.001], BOT_C_TICKS, "y3", "x2", 1 / 3, bot_dom),
)

shapes = []
annotations = []
# white page border at top/left
shapes.append(dict(type="rect", xref="paper", yref="paper", x0=fx(-20), x1=fx(12), y0=fy(H + 20), y1=fy(-20),
                   fillcolor="white", line=dict(width=0), layer="below"))
shapes.append(dict(type="rect", xref="paper", yref="paper", x0=fx(-20), x1=fx(W + 20), y0=fy(12), y1=fy(-20),
                   fillcolor="white", line=dict(width=0), layer="below"))

LEG_COLORS = ["black", BLUE, MAGENTA]
for dy, title, title_x, tcy in [(0, TOP_TITLE, 781, 33), (536, BOT_TITLE, 783, 568)]:
    annotations.append(dict(text=title, xref="paper", yref="paper", x=fx(title_x), y=fy(tcy),
                            xanchor="center", yanchor="middle", showarrow=False,
                            font=dict(family=FONT, size=19, color=BLUE)))
    cy = (TOP_T + TOP_B) / 2 + dy
    annotations.append(dict(text="uMol", xref="paper", yref="paper", x=fx(318), y=fy(cy),
                            xanchor="center", yanchor="middle", showarrow=False, textangle=-90,
                            font=dict(family=FONT, size=19, color="black")))
    annotations.append(dict(text="°C", xref="paper", yref="paper", x=fx(1248), y=fy(cy),
                            xanchor="center", yanchor="middle", showarrow=False, textangle=90,
                            font=dict(family=FONT, size=19, color="black")))
    # legend box with shadow
    shapes.append(dict(type="rect", xref="paper", yref="paper", x0=fx(44), x1=fx(298),
                       y0=fy(155 + dy), y1=fy(69 + dy), fillcolor="black", line=dict(width=0)))
    shapes.append(dict(type="rect", xref="paper", yref="paper", x0=fx(37), x1=fx(292),
                       y0=fy(148 + dy), y1=fy(62 + dy), fillcolor="white",
                       line=dict(color="black", width=1.5)))
    for i, (name, col) in enumerate(zip(LEGEND_NAMES, LEG_COLORS)):
        ly = 77 + 26.5 * i + dy
        shapes.append(dict(type="line", xref="paper", yref="paper", x0=fx(45), x1=fx(128),
                           y0=fy(ly), y1=fy(ly), line=dict(color=col, width=8)))
        cx = 46 if i == 0 else 127
        r = 4.5
        shapes.append(dict(type="circle", xref="paper", yref="paper", x0=fx(cx - r), x1=fx(cx + r),
                           y0=fy(ly + r), y1=fy(ly - r), fillcolor="white",
                           line=dict(color=col, width=2.5)))
        annotations.append(dict(text=name, xref="paper", yref="paper", x=fx(134), y=fy(ly + 1),
                                xanchor="left", yanchor="middle", showarrow=False,
                                font=dict(family=FONT, size=19, color="black")))

fig.update_layout(shapes=shapes, annotations=annotations)

fig.write_html("out.html", config={"displayModeBar": False},
               post_script="document.body.style.margin='0';document.body.style.overflow='hidden';")
